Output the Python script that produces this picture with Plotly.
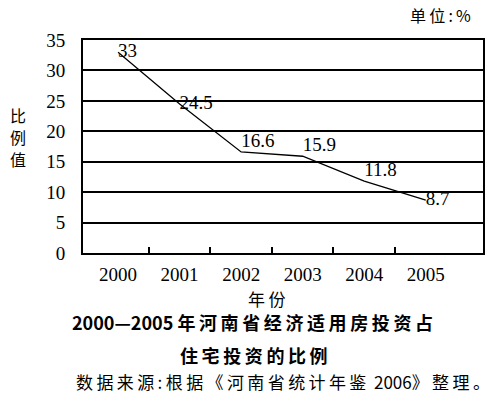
import plotly.graph_objects as go

years = [2000, 2001, 2002, 2003, 2004, 2005]
values = [33, 24.5, 16.6, 15.9, 11.8, 8.7]
value_labels = ["33", "24.5", "16.6", "15.9", "11.8", "8.7"]
label_pos = ["middle right", "middle right", "top right", "top right", "top right", "middle right"]
y_ticks = [0, 5, 10, 15, 20, 25, 30, 35]
year_labels = [str(y) for y in years]
between_ticks = [2000.5, 2001.5, 2002.5, 2003.5, 2004.5]

serif = "Liberation Serif, Times New Roman, serif"
cjk = "Noto Sans CJK SC, sans-serif"
TS = "\u2009"


def spaced(s):
    return TS.join(list(s))


fig = go.Figure()
fig.add_trace(go.Scatter(
    x=years, y=values, mode="lines+text",
    line=dict(color="black", width=1.3),
    text=value_labels, textposition=label_pos,
    textfont=dict(family=serif, size=19, color="black"),
    cliponaxis=False, showlegend=False, hoverinfo="skip"))
fig.add_trace(go.Scatter(x=[None], y=[None], xaxis="x2", showlegend=False))

L, R, T, B = 83, 483, 40, 253
xr = [1999.43, 2005.93]
fig.update_layout(
    width=500, height=397,
    margin=dict(l=L, r=500 - R, t=T, b=397 - B),
    paper_bgcolor="white", plot_bgcolor="white",
    xaxis=dict(range=xr, tickvals=years, ticktext=year_labels, ticks="",
               showgrid=False, zeroline=False,
               showline=True, linecolor="black", linewidth=2, mirror=True,
               ticklabelstandoff=3,
               tickfont=dict(family=serif, size=19, color="black")),
    xaxis2=dict(range=xr, overlaying="x", anchor="y", side="bottom",
                tickvals=between_ticks, ticks="inside", ticklen=6, tickwidth=1.5,
                tickcolor="black", showticklabels=False, showgrid=False,
                zeroline=False, showline=False),
    yaxis=dict(range=[0, 35], tickvals=y_ticks, ticks="",
               showgrid=True, gridcolor="black", gridwidth=1.5,
               zeroline=False, showline=True, linecolor="black", linewidth=2,
               mirror=True, ticklabelstandoff=12,
               tickfont=dict(family=serif, size=19, color="black")),
)

anns = [
    dict(text="比", x=18, y=115, font=dict(family=cjk, size=16)),
    dict(text="例", x=18, y=137, font=dict(family=cjk, size=16)),
    dict(text="值", x=18, y=159, font=dict(family=cjk, size=16)),
    dict(text=spaced("单位:%"), x=440, y=15, font=dict(family=cjk, size=16)),
    dict(text=spaced("年份"), x=266, y=298, font=dict(family=cjk, size=17)),
    dict(text="<b>2000—2005 " + spaced("年河南省经济适用房投资占") + "</b>", x=252, y=322,
         font=dict(family=cjk, size=18)),
    dict(text="<b>" + spaced("住宅投资的比例") + "</b>", x=254, y=355, font=dict(family=cjk, size=18)),
    dict(text=spaced("数据来源:根据《河南省统计年鉴") + "  2006" + spaced("》整理。"), x=283, y=381,
         font=dict(family=cjk, size=17)),
]
for a in anns:
    fig.add_annotation(text=a["text"], x=(a["x"] - L) / (R - L), y=(B - a["y"]) / (B - T),
                       xref="paper", yref="paper", xanchor="center", yanchor="middle",
                       showarrow=False, font=dict(color="black", **a["font"]))

fig.write_html("out.html")
